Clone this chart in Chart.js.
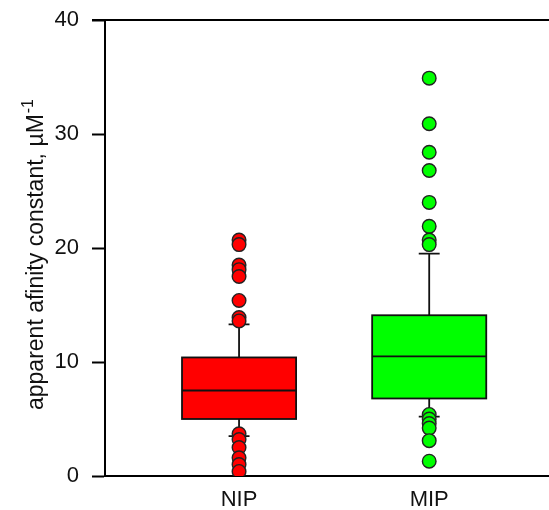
<!DOCTYPE html>
<html>
<head>
<meta charset="utf-8">
<script src="https://cdn.jsdelivr.net/npm/chart.js@4.4.0/dist/chart.umd.min.js"></script>
<style>
  html, body { margin: 0; padding: 0; background: #fff; overflow: hidden; }
</style>
</head>
<body>
<canvas id="boxChart" width="549" height="510"></canvas>
<script>
// groups and their box statistics
var groups = ['NIP', 'MIP'];
var groupX = [1, 2];
var q1 = [5.0, 6.8];
var median = [7.5, 10.5];
var q3 = [10.4, 14.1];
var whiskerLow = [3.5, 5.2];
var whiskerHigh = [13.3, 19.5];
var outliersNIP = [20.7, 20.3, 18.5, 18.1, 17.5, 15.4, 13.9, 13.6, 3.7, 3.2, 2.5, 1.6, 1.0, 0.4];
var outliersMIP = [34.9, 30.9, 28.4, 26.8, 24.0, 21.9, 20.7, 20.3, 5.4, 5.0, 4.6, 4.2, 3.1, 1.3];
var yTicks = [0, 10, 20, 30, 40];
var fillColors = ['#ff0000', '#00ff00'];

var boxHalf = 0.3;
var capHalf = 0.055;
var fontFamily = '"Liberation Sans", Arial, sans-serif';

function toPoints(x, vals) {
    return vals.map(function (v) { return { x: x, y: v }; });
}

// draws boxes, medians, whiskers and the frame using the chart scales
var boxPlugin = {
    id: 'boxPlugin',
    beforeDatasetsDraw: function (chart) {
        var ctx = chart.ctx;
        var xs = chart.scales.x, ys = chart.scales.y;
        ctx.save();
        ctx.strokeStyle = '#111';
        ctx.lineWidth = 1.8;
        for (var i = 0; i < groups.length; i++) {
            var xl = xs.getPixelForValue(groupX[i] - boxHalf);
            var xr = xs.getPixelForValue(groupX[i] + boxHalf);
            var xc = xs.getPixelForValue(groupX[i]);
            var cl = xs.getPixelForValue(groupX[i] - capHalf);
            var cr = xs.getPixelForValue(groupX[i] + capHalf);
            var yq1 = ys.getPixelForValue(q1[i]);
            var yq3 = ys.getPixelForValue(q3[i]);
            var ymed = ys.getPixelForValue(median[i]);
            var ylo = ys.getPixelForValue(whiskerLow[i]);
            var yhi = ys.getPixelForValue(whiskerHigh[i]);

            // whiskers
            ctx.beginPath();
            ctx.moveTo(xc, yq3); ctx.lineTo(xc, yhi);
            ctx.moveTo(cl, yhi); ctx.lineTo(cr, yhi);
            ctx.moveTo(xc, yq1); ctx.lineTo(xc, ylo);
            ctx.moveTo(cl, ylo); ctx.lineTo(cr, ylo);
            ctx.stroke();

            // box
            ctx.fillStyle = fillColors[i];
            ctx.fillRect(xl, yq3, xr - xl, yq1 - yq3);
            ctx.strokeRect(xl, yq3, xr - xl, yq1 - yq3);

            // median
            ctx.beginPath();
            ctx.moveTo(xl, ymed); ctx.lineTo(xr, ymed);
            ctx.stroke();
        }

        // top frame line
        var a = chart.chartArea;
        ctx.lineWidth = 2;
        ctx.strokeStyle = '#000';
        ctx.beginPath();
        ctx.moveTo(a.left - 13, a.top); ctx.lineTo(a.right, a.top);
        ctx.stroke();
        ctx.restore();
    },
    afterDraw: function (chart) {
        // y axis title with superscript
        var ctx = chart.ctx;
        ctx.save();
        ctx.translate(43, 255);
        ctx.rotate(-Math.PI / 2);
        ctx.fillStyle = '#111';
        ctx.textBaseline = 'alphabetic';
        var main = 'apparent afinity constant, \u00b5M';
        var sup = '-1';
        ctx.font = '23px ' + fontFamily;
        var w1 = ctx.measureText(main).width;
        ctx.font = '16px ' + fontFamily;
        var w2 = ctx.measureText(sup).width;
        var start = -(w1 + w2) / 2;
        ctx.font = '23px ' + fontFamily;
        ctx.textAlign = 'left';
        ctx.fillText(main, start, 0);
        ctx.font = '16px ' + fontFamily;
        ctx.fillText(sup, start + w1 + 1, -10);
        ctx.restore();
    }
};

var ctx = document.getElementById('boxChart').getContext('2d');
var chart = new Chart(ctx, {
    type: 'scatter',
    data: {
        datasets: [{
            label: groups[0],
            data: toPoints(groupX[0], outliersNIP),
            backgroundColor: fillColors[0],
            borderColor: '#222',
            borderWidth: 1.4,
            pointRadius: 6.8,
            pointHoverRadius: 6.8
        }, {
            label: groups[1],
            data: toPoints(groupX[1], outliersMIP),
            backgroundColor: fillColors[1],
            borderColor: '#222',
            borderWidth: 1.4,
            pointRadius: 6.8,
            pointHoverRadius: 6.8
        }]
    },
    options: {
        responsive: false,
        animation: false,
        layout: { autoPadding: false, padding: { top: 20, right: 0, left: 0, bottom: 0 } },
        plugins: {
            legend: { display: false },
            tooltip: { enabled: false }
        },
        scales: {
            x: {
                type: 'linear',
                min: 0.295,
                max: 2.63,
                afterBuildTicks: function (scale) {
                    scale.ticks = groupX.map(function (v) { return { value: v }; });
                },
                afterFit: function (scale) {
                    scale.height = 34;
                    scale.paddingLeft = 0;
                    scale.paddingRight = 0;
                },
                ticks: {
                    autoSkip: false,
                    maxRotation: 0,
                    padding: 11,
                    color: '#111',
                    font: { family: fontFamily, size: 22 },
                    callback: function (v) {
                        var k = groupX.indexOf(v);
                        return k >= 0 ? groups[k] : '';
                    }
                },
                grid: { drawOnChartArea: false, drawTicks: false },
                border: { color: '#000', width: 2 }
            },
            y: {
                min: 0,
                max: 40,
                afterBuildTicks: function (scale) {
                    scale.ticks = yTicks.map(function (v) { return { value: v }; });
                },
                afterFit: function (scale) {
                    scale.width = 105;
                    scale.paddingTop = 0;
                    scale.paddingBottom = 0;
                },
                ticks: {
                    padding: 13,
                    color: '#111',
                    font: { family: fontFamily, size: 22 }
                },
                grid: { drawOnChartArea: false, tickLength: 13, color: '#000', tickWidth: 2 },
                border: { color: '#000', width: 2 }
            }
        }
    },
    plugins: [boxPlugin]
});
</script>
</body>
</html>
